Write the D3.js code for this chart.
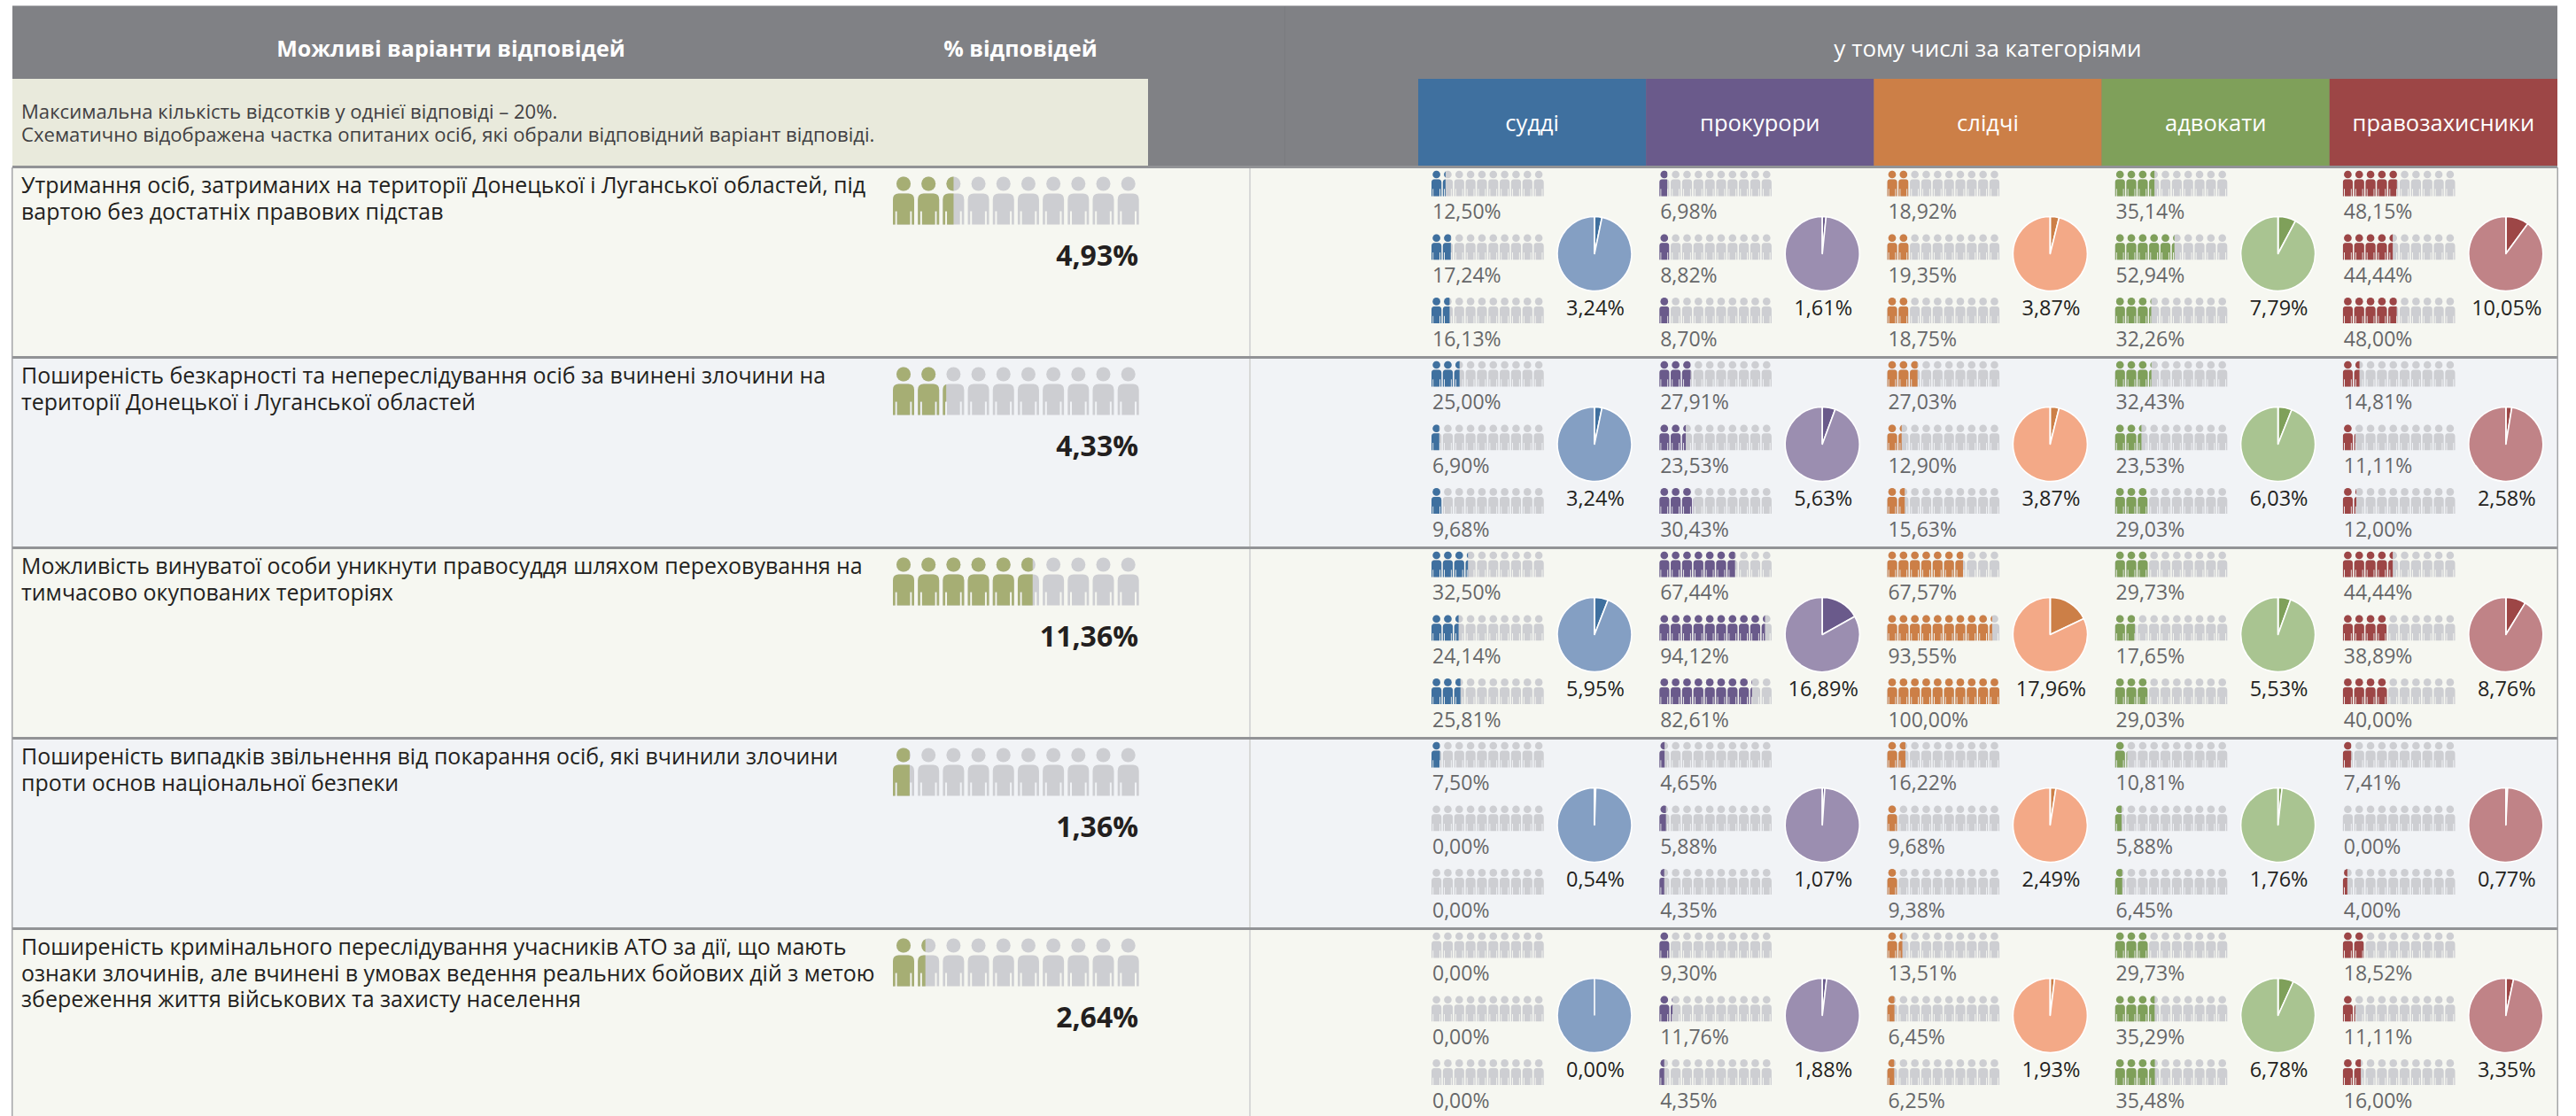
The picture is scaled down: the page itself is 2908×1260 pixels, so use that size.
<!DOCTYPE html>
<html lang="uk"><head><meta charset="utf-8">
<script src="https://cdnjs.cloudflare.com/ajax/libs/d3/7.9.0/d3.min.js"></script>
<style>html,body{margin:0;padding:0;background:#fff;overflow:hidden}text{font-family:"Open Sans",sans-serif}</style>
</head><body><svg id="c" width="2908" height="1260"></svg>
<script>
const categories = ["судді","прокурори","слідчі","адвокати","правозахисники"];
const categoryDark  = ["#3f709f","#6a5a8b","#cc7f47","#7fa05a","#9d4646"];
const categoryLight = ["#849fc3","#9b8eb0","#f3a987","#a9c491","#c08387"];
const options = [
 ["Утримання осіб, затриманих на території Донецької і Луганської областей, під","вартою без достатніх правових підстав"],
 ["Поширеність безкарності та непереслідування осіб за вчинені злочини на","території Донецької і Луганської областей"],
 ["Можливість винуватої особи уникнути правосуддя шляхом переховування на","тимчасово окупованих територіях"],
 ["Поширеність випадків звільнення від покарання осіб, які вчинили злочини","проти основ національної безпеки"],
 ["Поширеність кримінального переслідування учасників АТО за дії, що мають","ознаки злочинів, але вчинені в умовах ведення реальних бойових дій з метою","збереження життя військових та захисту населення"]
];
const totals = [4.93,4.33,11.36,1.36,2.64];
const judges = [[12.50,17.24,16.13],[25.00,6.90,9.68],[32.50,24.14,25.81],[7.50,0,0],[0,0,0]];
const prosecutors = [[6.98,8.82,8.70],[27.91,23.53,30.43],[67.44,94.12,82.61],[4.65,5.88,4.35],[9.30,11.76,4.35]];
const investigators = [[18.92,19.35,18.75],[27.03,12.90,15.63],[67.57,93.55,100],[16.22,9.68,9.38],[13.51,6.45,6.25]];
const lawyers = [[35.14,52.94,32.26],[32.43,23.53,29.03],[29.73,17.65,29.03],[10.81,5.88,6.45],[29.73,35.29,35.48]];
const defenders = [[48.15,44.44,48.00],[14.81,11.11,12.00],[44.44,38.89,40.00],[7.41,0,4.00],[18.52,11.11,16.00]];
const piesJudges = [3.24,3.24,5.95,0.54,0];
const piesProsecutors = [1.61,5.63,16.89,1.07,1.88];
const piesInvestigators = [3.87,3.87,17.96,2.49,1.93];
const piesLawyers = [7.79,6.03,5.53,1.76,6.78];
const piesDefenders = [10.05,2.58,8.76,0.77,3.35];
const headMain = "Можливі варіанти відповідей", headPct = "% відповідей", headCat = "у тому числі за категоріями";
const note = ["Максимальна кількість відсотків у однієї відповіді – 20%.","Схематично відображена частка опитаних осіб, які обрали відповідний варіант відповіді."];

const catValues = [judges,prosecutors,investigators,lawyers,defenders];
const catPies = [piesJudges,piesProsecutors,piesInvestigators,piesLawyers,piesDefenders];
const fmt = v => d3.format(".2f")(v).replace(".",",")+"%";
const svg = d3.select("#c");
const defs = svg.append("defs");
const rowY = d3.scaleLinear([0,5],[188.5,1263.5]);
const colX = d3.scaleBand(categories,[1601,2887]);
const mainFill = d3.scaleLinear([0,20],[0,277.7]);
const smallFill = d3.scaleLinear([0,100],[0,126.7]);
const icons = d3.range(10);
const GREY="#cdced2", INK="#231f20", SOFT="#666769", HEAD="#808185";
const bodyPath = (w,h)=>{const x=d3.scaleLinear([0,72],[0,w]),y=d3.scaleLinear([0,105],[0,h]);
 const p=d3.path();p.moveTo(x(0),y(105));p.lineTo(x(0),y(20));p.quadraticCurveTo(x(0),y(0),x(20),y(0));p.lineTo(x(52),y(0));
 p.quadraticCurveTo(x(72),y(0),x(72),y(20));p.lineTo(x(72),y(105));p.lineTo(x(64),y(105));p.lineTo(x(64),y(60));p.lineTo(x(58),y(60));p.lineTo(x(58),y(105));
 p.lineTo(x(14),y(105));p.lineTo(x(14),y(60));p.lineTo(x(8),y(60));p.lineTo(x(8),y(105));p.closePath();return p.toString();};
let clipId=0;
function people(g,x0,bodyTop,geo,fillW,color){
 const id="cl"+(clipId++);
 defs.append("clipPath").attr("id",id).append("rect").attr("x",x0).attr("y",bodyTop-geo.r*3).attr("width",fillW).attr("height",geo.h+geo.r*4);
 const pos=d3.scaleLinear([0,9],[x0,x0+geo.total-geo.w]);
 const draw=(layer,c)=>{const s=layer.selectAll("g").data(icons).join("g").attr("transform",i=>`translate(${pos(i)},${bodyTop})`).attr("fill",c);
  s.append("path").attr("d",bodyPath(geo.w,geo.h));
  s.append("circle").attr("cx",geo.w/2).attr("cy",-geo.gap).attr("r",geo.r);};
 draw(g.append("g"),GREY);
 draw(g.append("g").attr("clip-path",`url(#${id})`),color);
}
const text=(g,x,y,s,size,fill,anchor,weight)=>g.append("text").attr("x",x).attr("y",y).text(s).attr("font-size",size).attr("fill",fill).attr("text-anchor",anchor||"start").attr("font-weight",weight||400);

// header
svg.append("rect").attr("x",14).attr("y",6).attr("width",2873).attr("height",1).attr("fill","#bdbec0");
svg.append("rect").attr("x",14).attr("y",7).attr("width",2873).attr("height",182).attr("fill",HEAD);
svg.append("rect").attr("x",1450).attr("y",7).attr("width",1).attr("height",182).attr("fill","#7a7b7f");
svg.append("rect").attr("x",14).attr("y",89).attr("width",1282).attr("height",99).attr("fill","#e9eadc");
text(svg,509,64,headMain,25,"#fff","middle",700);
text(svg,1152,64,headPct,25,"#fff","middle",700);
text(svg,2244,64,headCat,26,"#fff","middle",500);
note.forEach((s,i)=>text(svg,24,134+i*26,s,22.1,"#414042"));
categories.forEach((c,i)=>{
 svg.append("rect").attr("x",colX(c)).attr("y",89).attr("width",colX.bandwidth()).attr("height",99).attr("fill",categoryDark[i]);
 text(svg,colX(c)+colX.bandwidth()/2,148,c,25.5,"#fff","middle",500);
});

// rows
const geoMain={w:24,h:35,r:8,gap:11,total:277.7};
const geoSmall={w:11.2,h:19,r:4.3,gap:5.5,total:126.7};
const arc=d3.arc().innerRadius(0).outerRadius(42);
const pie=d3.pie().sort(null);
options.forEach((lines,r)=>{
 const y=rowY(r), g=svg.append("g");
 g.append("rect").attr("x",14).attr("y",y).attr("width",2873).attr("height",rowY(r+1)-y).attr("fill",r%2?"#f1f3f6":"#f6f7f1");
 g.append("rect").attr("x",1410).attr("y",y).attr("width",2).attr("height",rowY(r+1)-y).attr("fill","#d8d9d8");
 lines.forEach((s,i)=>text(g,24,y+29.7+i*29.5,s,24.95,INK));
 people(g,1008,y+30,geoMain,mainFill(totals[r]),"#a6ae74");
 text(g,1285,y+111.7,fmt(totals[r]),32,INK,"end",700);
 categories.forEach((c,k)=>{
  const x=colX(c), cg=g.append("g");
  catValues[k][r].forEach((v,j)=>{
   people(cg,x+15,y+14+j*71.7,geoSmall,smallFill(v),categoryDark[k]);
   text(cg,x+16,y+58+j*72.2,fmt(v),23,SOFT);
  });
  const pv=catPies[k][r];
  const pg=cg.append("g").attr("transform",`translate(${x+199},${y+98})`);
  pg.selectAll("path").data(pie([pv,100-pv])).join("path").attr("d",arc)
    .attr("fill",(d,i)=>i?categoryLight[k]:categoryDark[k]).attr("stroke","#fff").attr("stroke-width",1.6).attr("stroke-linejoin","round");
  pg.append("line").attr("y2",-arc.outerRadius()()).attr("stroke","#fff").attr("stroke-width",1.6);
  text(cg,x+200,y+167.5,fmt(pv),23.5,INK,"middle",500);
 });
});
// row rules and frame
d3.range(0,5).forEach(r=>svg.append("rect").attr("x",14).attr("y",rowY(r)-1.5).attr("width",2873).attr("height",3).attr("fill","#929396"));
svg.append("rect").attr("x",13).attr("y",189).attr("width",1.5).attr("height",1071).attr("fill","#a4a5a8");
svg.append("rect").attr("x",2886.5).attr("y",189).attr("width",1.5).attr("height",1071).attr("fill","#a4a5a8");
</script></body></html>
